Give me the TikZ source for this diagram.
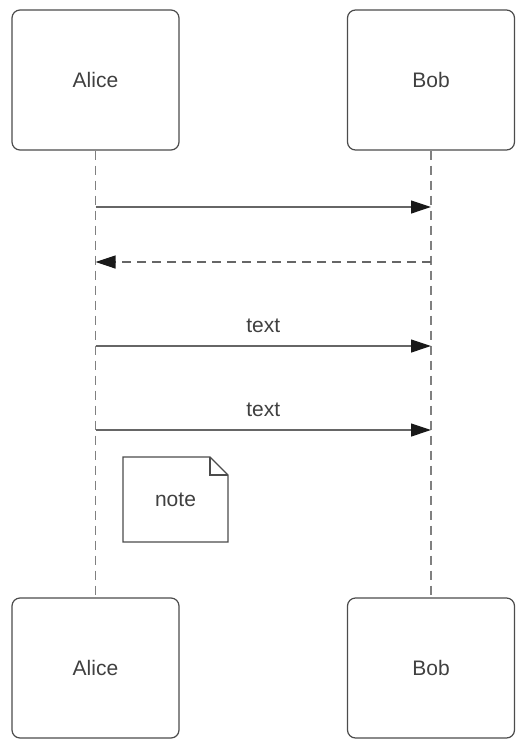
\documentclass[tikz,border=0pt]{standalone}
\usepackage{fontspec}
\setmainfont{Liberation Sans}
\usetikzlibrary{arrows.meta}
\begin{document}
\begin{tikzpicture}[x=1pt,y=-1pt,
  actor/.style={draw=black!70, line width=1.2pt, rounded corners=8pt, fill=white,
    minimum width=167pt, minimum height=140pt, inner sep=0pt,
    font=\fontsize{21}{24}\selectfont, text=black!75},
  lifeline/.style={draw=black!50, line width=1.3pt, dash pattern=on 9pt off 6pt},
  msg/.style={draw=black!60, line width=1.2pt,
    -{Triangle[length=20pt,width=13pt,color=black!90]}},
  reply/.style={msg, dash pattern=on 9pt off 6pt},
  lbl/.style={font=\fontsize{21}{24}\selectfont, text=black!75, inner sep=0pt}]
  \useasboundingbox (0,0) rectangle (526,742);
  % participants
  \node[actor] (a1) at (95.5,80) {Alice};
  \node[actor] (b1) at (431,80) {Bob};
  \node[actor] (a2) at (95.5,668) {Alice};
  \node[actor] (b2) at (431,668) {Bob};
  % lifelines
  \draw[lifeline] (a1.south) -- (a2.north);
  \draw[lifeline] (b1.south) -- (b2.north);
  % message anchors on the lifelines
  \coordinate (a3) at (95.5,207); \coordinate (b3) at (431,207);
  \coordinate (a4) at (95.5,262); \coordinate (b4) at (431,262);
  \coordinate (a5) at (95.5,346); \coordinate (b5) at (431,346);
  \coordinate (a6) at (95.5,430); \coordinate (b6) at (431,430);
  % messages
  \draw[msg] (a3) -- (b3);
  \draw[reply] (b4) -- (a4);
  \draw[msg] (a5) -- node[lbl, above=13pt] (t1) {text} (b5);
  \draw[msg] (a6) -- node[lbl, above=13pt] (t2) {text} (b6);
  % note with folded corner
  \draw[draw=black!70, line width=1.2pt, fill=white]
    (123,457) -- (210,457) -- (228,475) -- (228,542) -- (123,542) -- cycle;
  \draw[draw=black!70, line width=1.2pt] (210,457) -- (210,475) -- (228,475);
  \node[lbl] (n) at (175.5,499.5) {note};
\end{tikzpicture}
\end{document}
